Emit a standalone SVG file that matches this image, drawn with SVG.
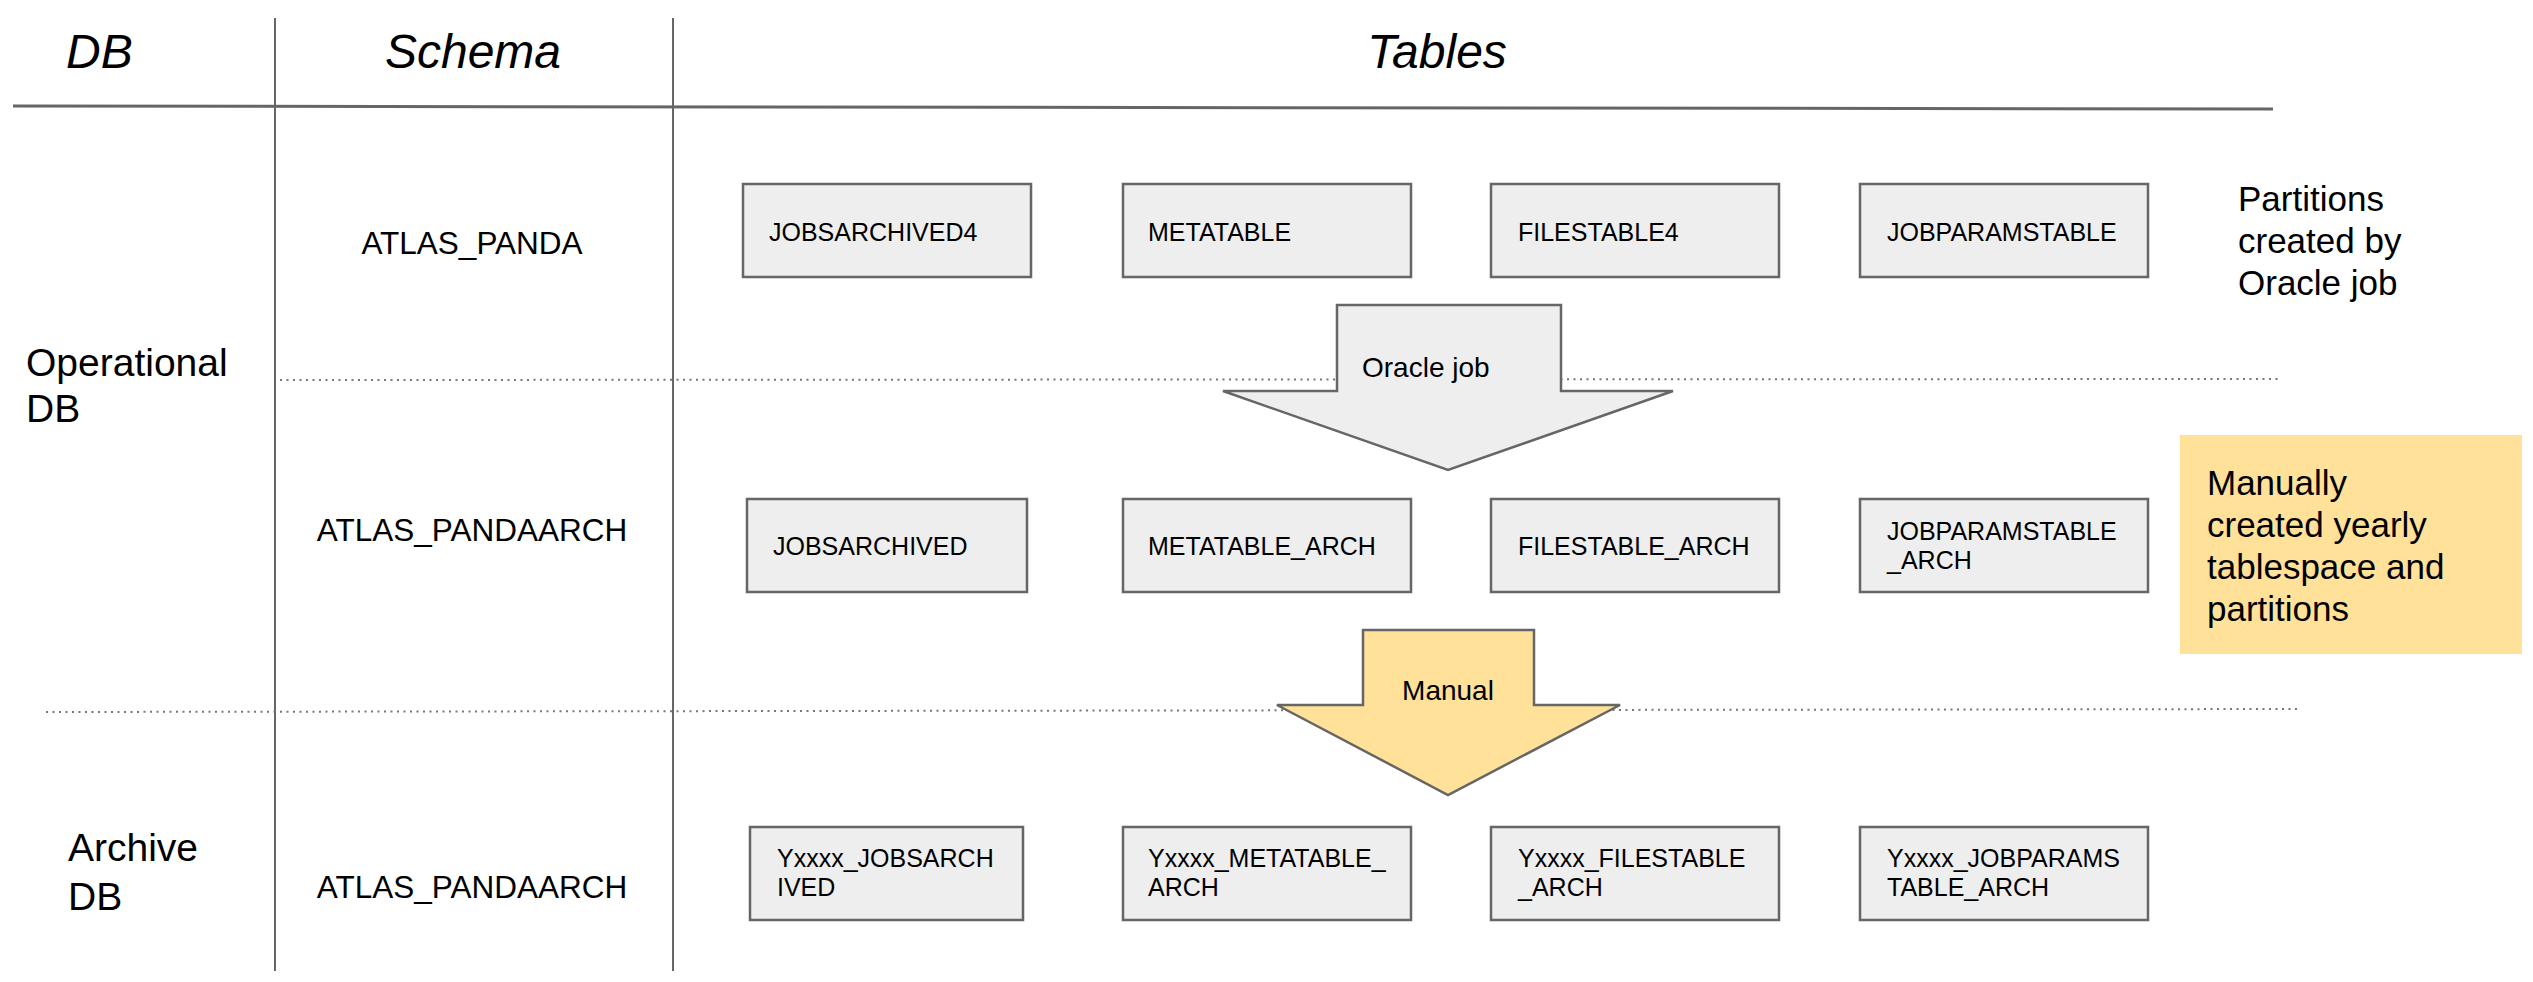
<svg xmlns="http://www.w3.org/2000/svg" width="2533" height="982" viewBox="0 0 2533 982">
<style>
text{font-family:"Liberation Sans",Arial,sans-serif;fill:#000}
.hdr{font-size:48px;font-style:italic}
.side{font-size:39px}
.schema{font-size:31.5px;text-anchor:middle}
.lbl{font-size:25px}
.alb{font-size:28px}
.note{font-size:35px}
.box{fill:#eeeeee;stroke:#666;stroke-width:2.5}
.grid{stroke:#666;stroke-width:2;fill:none}
.dot{stroke:#777;stroke-width:2;stroke-dasharray:2 4.5;fill:none}
</style>
<rect width="2533" height="982" fill="#fff"/>
<g id="grid">
<line class="grid" x1="13" y1="106" x2="2273" y2="109" style="stroke-width:3"/>
<line class="grid" x1="275" y1="18" x2="275" y2="971"/>
<line class="grid" x1="673" y1="18" x2="673" y2="971"/>
<line class="dot" x1="280" y1="380" x2="2281" y2="379"/>
<line class="dot" x1="46" y1="712" x2="2297" y2="709"/>
</g>
<g id="headers">
<text class="hdr" x="66" y="68">DB</text>
<text class="hdr" x="473" y="68" text-anchor="middle">Schema</text>
<text class="hdr" x="1437" y="68" text-anchor="middle">Tables</text>
</g>
<g id="db-labels">
<text class="side" x="26" y="376">Operational</text>
<text class="side" x="26" y="422">DB</text>
<text class="side" x="68" y="861">Archive</text>
<text class="side" x="68" y="910">DB</text>
</g>
<g id="schema-labels">
<text class="schema" x="472" y="254">ATLAS_PANDA</text>
<text class="schema" x="472" y="541">ATLAS_PANDAARCH</text>
<text class="schema" x="472" y="898">ATLAS_PANDAARCH</text>
</g>
<g id="connectors">
<polygon class="box" points="1337,305 1561,305 1561,391 1673,391 1448,470 1223,391 1337,391"/>
<text class="alb" x="1362" y="377">Oracle job</text>
<polygon points="1363,630 1534,630 1534,705 1620,705 1448,795 1277,705 1363,705" fill="#ffe199" stroke="#666" stroke-width="2.5"/>
<text class="alb" x="1448" y="700" text-anchor="middle">Manual</text>
</g>
<g id="n-jobsarchived4"><rect class="box" x="743" y="184" width="288" height="93"/><text class="lbl" x="769" y="241">JOBSARCHIVED4</text></g>
<g id="n-metatable"><rect class="box" x="1123" y="184" width="288" height="93"/><text class="lbl" x="1148" y="241">METATABLE</text></g>
<g id="n-filestable4"><rect class="box" x="1491" y="184" width="288" height="93"/><text class="lbl" x="1518" y="241">FILESTABLE4</text></g>
<g id="n-jobparamstable"><rect class="box" x="1860" y="184" width="288" height="93"/><text class="lbl" x="1887" y="241">JOBPARAMSTABLE</text></g>
<g id="n-jobsarchived"><rect class="box" x="747" y="499" width="280" height="93"/><text class="lbl" x="773" y="555">JOBSARCHIVED</text></g>
<g id="n-metatable-arch"><rect class="box" x="1123" y="499" width="288" height="93"/><text class="lbl" x="1148" y="555">METATABLE_ARCH</text></g>
<g id="n-filestable-arch"><rect class="box" x="1491" y="499" width="288" height="93"/><text class="lbl" x="1518" y="555">FILESTABLE_ARCH</text></g>
<g id="n-jobparamstable-arch"><rect class="box" x="1860" y="499" width="288" height="93"/><text class="lbl" x="1887" y="540">JOBPARAMSTABLE</text><text class="lbl" x="1887" y="569">_ARCH</text></g>
<g id="n-y-jobsarchived"><rect class="box" x="750" y="827" width="273" height="93"/><text class="lbl" x="777" y="867">Yxxxx_JOBSARCH</text><text class="lbl" x="777" y="896">IVED</text></g>
<g id="n-y-metatable-arch"><rect class="box" x="1123" y="827" width="288" height="93"/><text class="lbl" x="1148" y="867">Yxxxx_METATABLE_</text><text class="lbl" x="1148" y="896">ARCH</text></g>
<g id="n-y-filestable-arch"><rect class="box" x="1491" y="827" width="288" height="93"/><text class="lbl" x="1518" y="867">Yxxxx_FILESTABLE</text><text class="lbl" x="1518" y="896">_ARCH</text></g>
<g id="n-y-jobparamstable-arch"><rect class="box" x="1860" y="827" width="288" height="93"/><text class="lbl" x="1887" y="867">Yxxxx_JOBPARAMS</text><text class="lbl" x="1887" y="896">TABLE_ARCH</text></g>
<g id="note-partitions">
<text class="note" x="2238" y="211">Partitions</text>
<text class="note" x="2238" y="253">created by</text>
<text class="note" x="2238" y="295">Oracle job</text>
</g>
<g id="note-manual">
<rect x="2180" y="435" width="342" height="219" fill="#ffe199"/>
<text class="note" x="2207" y="495">Manually</text>
<text class="note" x="2207" y="537">created yearly</text>
<text class="note" x="2207" y="579">tablespace and</text>
<text class="note" x="2207" y="621">partitions</text>
</g>
</svg>
